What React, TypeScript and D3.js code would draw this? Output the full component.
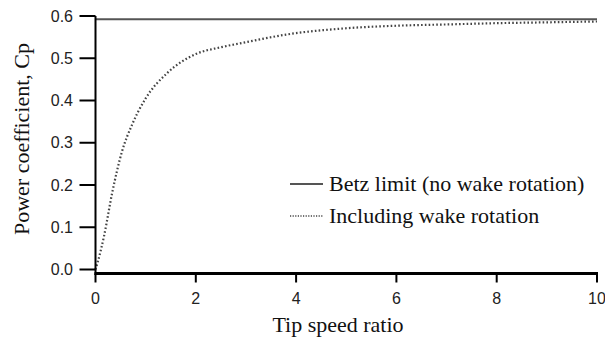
import { useRef, useEffect } from "react";
import * as d3 from "d3";

// tip speed ratio vs power coefficient
const tsr = [0, 0.05, 0.17, 0.33, 0.53, 0.73, 1.0, 1.43, 2.0, 2.5, 3.0, 3.8, 5.0, 6.0, 7.0, 8.0, 9.0, 10.0];
const cpWake = [0, 0.02, 0.079, 0.18, 0.28, 0.343, 0.405, 0.465, 0.51, 0.526, 0.538, 0.556, 0.571, 0.577, 0.58, 0.583, 0.585, 0.587];
const betz = 16 / 27;

const xTicks = [0, 2, 4, 6, 8, 10];
const yTicks = [0, 0.1, 0.2, 0.3, 0.4, 0.5, 0.6];

const legendLabels = ["Betz limit (no wake rotation)", "Including wake rotation"];

export default function App() {
  const svgRef = useRef<SVGSVGElement>(null);

  useEffect(() => {
    const svgEl = svgRef.current;
    if (!svgEl) return;
    const width = 605;
    const height = 338;
    const svg = d3.select(svgEl).attr("width", width).attr("height", height).style("display", "block");
    svg.selectAll("*").remove();

    const x = d3.scaleLinear().domain([0, 10]).range([95.5, 597]);
    const y = d3.scaleLinear().domain([0, 0.6]).range([269.5, 16]);
    const axisY = 273.5;
    const sans = "'Liberation Sans', Arial, sans-serif";
    const serif = "'Liberation Serif', 'Times New Roman', serif";

    svg.append("rect").attr("width", width).attr("height", height).attr("fill", "#fff");

    // betz limit
    svg.append("line")
      .attr("x1", x(0)).attr("x2", x(10))
      .attr("y1", y(betz)).attr("y2", y(betz))
      .attr("stroke", "#555").attr("stroke-width", 2);

    // curve with wake rotation
    const line = d3.line<number>()
      .x((_, i) => x(tsr[i]))
      .y((d) => y(d))
      .curve(d3.curveMonotoneX);
    svg.append("path")
      .datum(cpWake)
      .attr("fill", "none")
      .attr("stroke", "#444")
      .attr("stroke-width", 2.2)
      .attr("stroke-dasharray", "1.6,2.2")
      .attr("d", line as any);

    // y axis
    svg.append("line")
      .attr("x1", x(0)).attr("x2", x(0))
      .attr("y1", y(0.6)).attr("y2", axisY + 1.5)
      .attr("stroke", "#000").attr("stroke-width", 2);
    const gy = svg.append("g");
    yTicks.forEach((t) => {
      gy.append("line")
        .attr("x1", x(0) - 16).attr("x2", x(0))
        .attr("y1", y(t)).attr("y2", y(t))
        .attr("stroke", "#000").attr("stroke-width", 2);
      gy.append("text")
        .attr("x", 73).attr("y", y(t) + 5.5)
        .attr("text-anchor", "end")
        .attr("font-family", sans).attr("font-size", 16)
        .attr("fill", "#222")
        .text(t.toFixed(1));
    });

    // x axis
    svg.append("line")
      .attr("x1", x(0) - 1).attr("x2", x(10) + 1)
      .attr("y1", axisY).attr("y2", axisY)
      .attr("stroke", "#000").attr("stroke-width", 3);
    const gx = svg.append("g");
    xTicks.forEach((t) => {
      gx.append("line")
        .attr("x1", x(t)).attr("x2", x(t))
        .attr("y1", axisY).attr("y2", axisY + 9)
        .attr("stroke", "#000").attr("stroke-width", 2);
      gx.append("text")
        .attr("x", x(t)).attr("y", 304)
        .attr("text-anchor", "middle")
        .attr("font-family", sans).attr("font-size", 16)
        .attr("fill", "#222")
        .text(String(t));
    });

    // axis titles
    svg.append("text")
      .attr("x", 338).attr("y", 332)
      .attr("text-anchor", "middle")
      .attr("font-family", serif).attr("font-size", 22)
      .attr("fill", "#111")
      .text("Tip speed ratio");
    svg.append("text")
      .attr("transform", `translate(29,139) rotate(-90)`)
      .attr("text-anchor", "middle")
      .attr("font-family", serif).attr("font-size", 22)
      .attr("fill", "#111")
      .text("Power coefficient, Cp");

    // legend
    const lg = svg.append("g");
    const rows = [184, 216];
    lg.append("line")
      .attr("x1", 290).attr("x2", 323)
      .attr("y1", rows[0]).attr("y2", rows[0])
      .attr("stroke", "#555").attr("stroke-width", 2);
    lg.append("line")
      .attr("x1", 290).attr("x2", 323)
      .attr("y1", rows[1]).attr("y2", rows[1])
      .attr("stroke", "#444").attr("stroke-width", 1.6)
      .attr("stroke-dasharray", "1.2,1.4");
    legendLabels.forEach((label, i) => {
      lg.append("text")
        .attr("x", 329).attr("y", rows[i] + 7)
        .attr("font-family", serif).attr("font-size", 22)
        .attr("fill", "#111")
        .text(label);
    });
  }, []);

  return (
    <div style={{ position: "absolute", left: 0, top: 0 }}>
      <svg ref={svgRef} />
    </div>
  );
}
